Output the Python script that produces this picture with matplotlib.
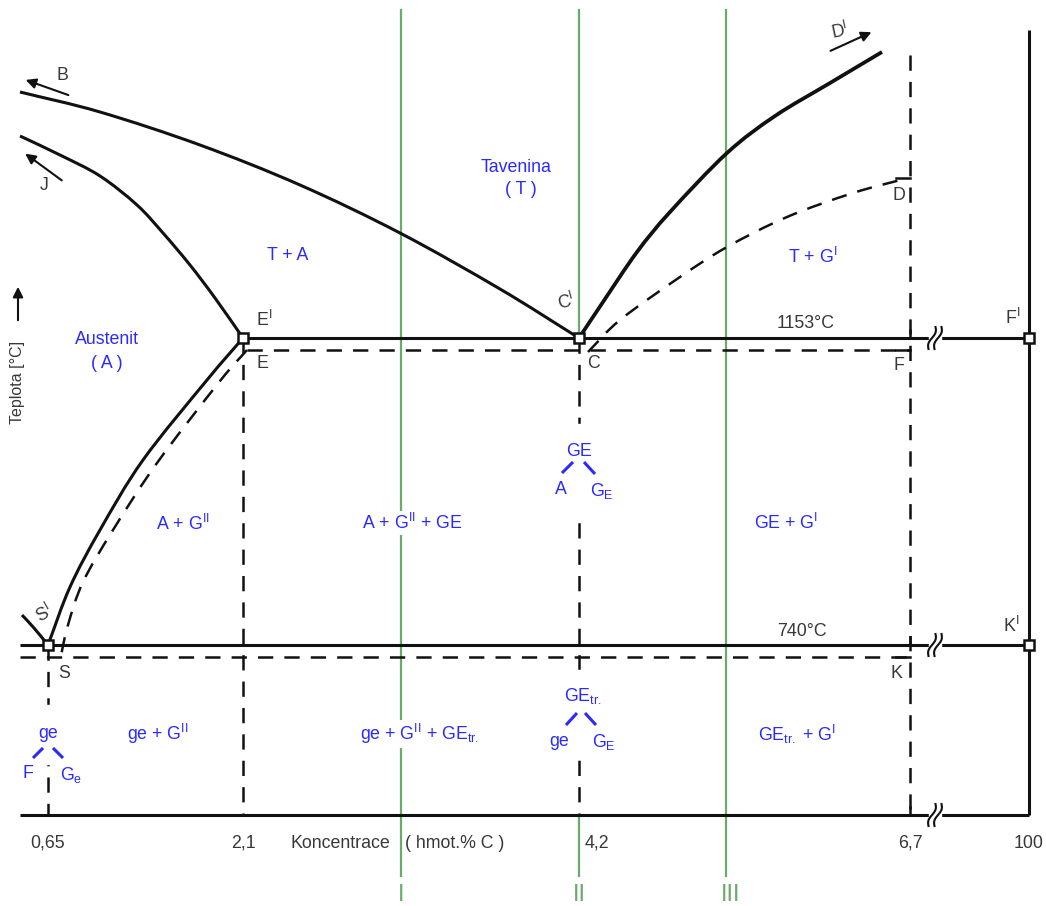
import numpy as np
import matplotlib
matplotlib.use('Agg')
import matplotlib.pyplot as plt
from matplotlib.path import Path
from matplotlib.patches import PathPatch, Rectangle

plt.rcParams['font.family'] = ['Liberation Sans', 'DejaVu Sans']
plt.rcParams['mathtext.fontset'] = 'custom'
plt.rcParams['mathtext.rm'] = 'Liberation Sans'
plt.rcParams['mathtext.it'] = 'Liberation Sans:italic'
plt.rcParams['lines.scale_dashes'] = False

######## DIAGRAM GEOMETRY (drawing units, y grows downward) ########

# composition positions on the bottom line and their labels
conc_x = [48, 243, 579, 910, 1029]
conc_lbl = ['0,65', '2,1', '4,2', '6,7', '100']

# horizontal levels
y_eut = 338        # 1153 C, stable eutectic
y_eut_m = 350      # metastable eutectic
y_eutd = 645       # 740 C, stable eutectoid
y_eutd_m = 657     # metastable eutectoid
y_base = 815
x_left = 20
x_right = 1029
x_break = 935

# liquidus B -> C'
liq_bc_x = [20, 100, 200, 300, 400, 500, 579]
liq_bc_y = [92, 112, 145, 185, 233, 289, 338]

# solidus J -> E'
sol_je_x = [20, 60, 100, 137, 163, 190, 215, 243]
sol_je_y = [136, 155, 176, 205, 233, 265, 298, 338]

# solubility E' -> S' (stable) and E -> S (metastable)
acm_x = [243, 207, 143, 100, 70, 48]
acm_y = [338, 380, 460, 530, 587, 645]
acm_m_x = [247, 220, 157, 113, 83, 68, 60]
acm_m_y = [350, 381, 463, 530, 582, 625, 660]

# ferrite side ending at S'
a3_x = [22, 34, 48]
a3_y = [615, 628, 645]

# liquidus C' -> D' (stable) and C -> D (metastable)
liq_cd_x = [579, 603, 637, 670, 727, 775, 830, 882]
liq_cd_y = [338, 302, 252, 212, 153, 116, 83, 52]
liq_cd_m_x = [588, 620, 680, 727, 787, 853, 908]
liq_cd_m_y = [352, 320, 277, 247, 217, 193, 178]

# alloy lines I, II, III
alloy_x = [401, 579, 726]
alloy_lbl = ['I', 'II', 'III']

# nodes drawn as small squares
node_x = [243, 579, 1029, 48, 1029]
node_y = [338, 338, 338, 645, 645]

BLACK = '#111111'
GREY = '#383838'
BLUE = '#2a2aff'
GREEN = '#6aaa6a'
DASH = (0, (11, 8))
FS = 12.8


def smooth(xs, ys):
    """Catmull-Rom curve through the points, as cubic Bezier path."""
    p = np.column_stack([xs, ys]).astype(float)
    ext = np.vstack([2 * p[0] - p[1], p, 2 * p[-1] - p[-2]])
    verts = [p[0]]
    codes = [Path.MOVETO]
    for i in range(1, len(ext) - 2):
        c1 = ext[i] + (ext[i + 1] - ext[i - 1]) / 6
        c2 = ext[i + 1] - (ext[i + 2] - ext[i]) / 6
        verts += [c1, c2, ext[i + 1]]
        codes += [Path.CURVE4] * 3
    return Path(verts, codes)


fig = plt.figure(figsize=(10.46, 9.06), dpi=100)
ax = fig.add_axes([0, 0, 1, 1])
ax.set_xlim(0, 1046)
ax.set_ylim(906, 0)
ax.axis('off')

######## ALLOY LINES ########
ax.plot([alloy_x[0]] * 2, [10, 876], color=GREEN, lw=1.6, zorder=1)
ax.plot([alloy_x[1]] * 2, [10, y_eut], color=GREEN, lw=1.6, zorder=1)
ax.plot([alloy_x[1]] * 2, [y_base, 876], color=GREEN, lw=1.6, zorder=1)
ax.plot([alloy_x[2]] * 2, [10, 876], color=GREEN, lw=1.6, zorder=1)
for xa, lb in zip(alloy_x, alloy_lbl):
    dx = 5 if lb == 'III' else 0
    ax.text(xa + dx, 884, lb, color=GREEN, fontsize=17, ha='center', va='top')

######## SOLID LINES ########
kw = dict(color=BLACK, lw=2.2, solid_capstyle='butt', zorder=3)
for xs, ys, lw in [(liq_bc_x, liq_bc_y, 2.2), (sol_je_x, sol_je_y, 2.2),
                   (acm_x, acm_y, 2.2), (a3_x, a3_y, 2.2),
                   (liq_cd_x, liq_cd_y, 2.7)]:
    ax.add_patch(PathPatch(smooth(xs, ys), fill=False, ec=BLACK, lw=lw,
                           capstyle='butt', zorder=3))
ax.plot([conc_x[1], x_right], [y_eut, y_eut], **kw)
ax.plot([x_left, x_right], [y_eutd, y_eutd], **kw)
ax.plot([x_left, x_right], [y_base, y_base], **kw)
ax.plot([x_right, x_right], [30, y_base], **kw)

######## DASHED (METASTABLE) LINES ########
kd = dict(color=BLACK, lw=1.8, linestyle=DASH, zorder=3)
for xs, ys in [(acm_m_x, acm_m_y), (liq_cd_m_x, liq_cd_m_y)]:
    ax.add_patch(PathPatch(smooth(xs, ys), fill=False, ec=BLACK, lw=1.8,
                           ls=DASH, zorder=3))
ax.plot([conc_x[1] + 4, conc_x[3]], [y_eut_m, y_eut_m], **kd)
ax.plot([x_left, conc_x[3]], [y_eutd_m, y_eutd_m], **kd)
ax.plot([conc_x[0]] * 2, [y_eutd, y_base], **kd)
ax.plot([conc_x[1]] * 2, [y_eut, y_base], **kd)
ax.plot([conc_x[2]] * 2, [y_eut, y_base], **kd)
ax.plot([conc_x[3]] * 2, [55, y_base], **kd)
# short end ticks at D, F, K
for yt in [178, y_eut_m, y_eutd_m]:
    ax.plot([896, conc_x[3]], [yt, yt], color=BLACK, lw=1.8, zorder=3)
for yb in [y_eut, y_eutd, y_base]:
    ax.plot([conc_x[3], conc_x[3]], [yb - 8, yb], color=BLACK, lw=1.8, zorder=3)

######## AXIS BREAK MARKS ########
t = np.linspace(-1, 1, 40)
for yb in [y_eut, y_eutd, y_base]:
    ax.add_patch(Rectangle((x_break - 6, yb - 3), 12, 6, color='white', zorder=4))
    for off in (-3, 3):
        ax.plot(x_break + off + 3.5 * t + 1.8 * np.sin(np.pi * t), yb - 11 * t,
                color=BLACK, lw=1.5, zorder=5)

######## NODES ########
ax.plot(node_x, node_y, 's', ms=7, mfc='white', mec=BLACK, mew=1.8, zorder=6)

######## DIRECTION ARROWS ########
ap = dict(arrowstyle='-|>', color=BLACK, lw=1.5, mutation_scale=15)
ax.annotate('', xy=(23, 79), xytext=(71, 96), arrowprops=ap)
ax.annotate('', xy=(23, 152), xytext=(64, 182), arrowprops=ap)
ax.annotate('', xy=(874, 31), xytext=(828, 52), arrowprops=ap)
ax.annotate('', xy=(18, 284), xytext=(18, 323), arrowprops=ap)

######## LABELS ########
def lab(x, y, s, c=GREY, fs=FS, **k):
    ax.text(x, y, s, color=c, fontsize=fs, ha='center', va='center', zorder=7, **k)

sup = r'$^{\mathrm{I}}$'
lab(62, 76, 'B')
lab(44, 185, 'J')
lab(840, 31, 'D' + sup, rotation=12)
lab(264, 320, 'E' + sup)
lab(262, 364, 'E')
lab(566, 302, 'C' + sup, rotation=15)
lab(593, 364, 'C')
lab(806, 323, '1153°C')
lab(899, 366, 'F')
lab(1013, 318, 'F' + sup)
lab(899, 196, 'D')
lab(44, 614, 'S' + sup, rotation=30)
lab(64, 673, 'S')
lab(802, 631, '740°C')
lab(896, 674, 'K')
lab(1011, 626, 'K' + sup)
lab(18, 382, 'Teplota [°C]', fs=11.5, rotation=90)

for xc, lb in zip(conc_x, conc_lbl):
    dx = 18 if lb == '4,2' else 0
    lab(xc + dx, 843, lb)
lab(340, 843, 'Koncentrace')
lab(455, 843, '( hmot.% C )')

# phase fields
wb = dict(facecolor='white', edgecolor='none', pad=1.5)
lab(516, 167, 'Tavenina', BLUE)
lab(521, 190, '( T )', BLUE)
lab(288, 256, 'T + A', BLUE)
lab(813, 257, r'T + G$^{\mathrm{I}}$', BLUE)
lab(107, 339, 'Austenit', BLUE)
lab(107, 363, '( A )', BLUE)
lab(183, 524, r'A + G$^{\mathrm{II}}$', BLUE)
lab(412, 523, r'A + G$^{\mathrm{II}}$ + GE', BLUE, bbox=wb)
lab(786, 523, r'GE + G$^{\mathrm{I}}$', BLUE)
lab(158, 734, r'ge + G$^{\mathrm{II}}$', BLUE)
lab(420, 734, r'ge + G$^{\mathrm{II}}$ + GE$_{\mathrm{tr.}}$', BLUE, bbox=wb)
lab(797, 734, r'GE$_{\mathrm{tr.}}$ + G$^{\mathrm{I}}$', BLUE)

# structure trees, with the dashed line cleared behind them
kb = dict(color=BLUE, lw=2.2, solid_capstyle='butt', zorder=7)
for x0, y0, y1 in [(579, 424, 512), (579, 670, 757), (48, 705, 764)]:
    ax.add_patch(Rectangle((x0 - 4, y0), 8, y1 - y0, color='white', zorder=4))

lab(579, 451, 'GE', BLUE)
ax.plot([573, 562], [462, 473], **kb)
ax.plot([584, 595], [462, 474], **kb)
lab(561, 490, 'A', BLUE)
lab(602, 491, r'G$_{\mathrm{E}}$', BLUE)

lab(583, 696, r'GE$_{\mathrm{tr.}}$', BLUE)
ax.plot([577, 566], [713, 725], **kb)
ax.plot([585, 596], [713, 725], **kb)
lab(559, 741, 'ge', BLUE)
lab(604, 742, r'G$_{\mathrm{E}}$', BLUE)

lab(48, 733, 'ge', BLUE)
ax.plot([43, 33], [748, 758], **kb)
ax.plot([53, 63], [748, 758], **kb)
lab(28, 773, 'F', BLUE)
lab(71, 775, r'G$_{\mathrm{e}}$', BLUE)

plt.savefig('out.png', dpi=100)
